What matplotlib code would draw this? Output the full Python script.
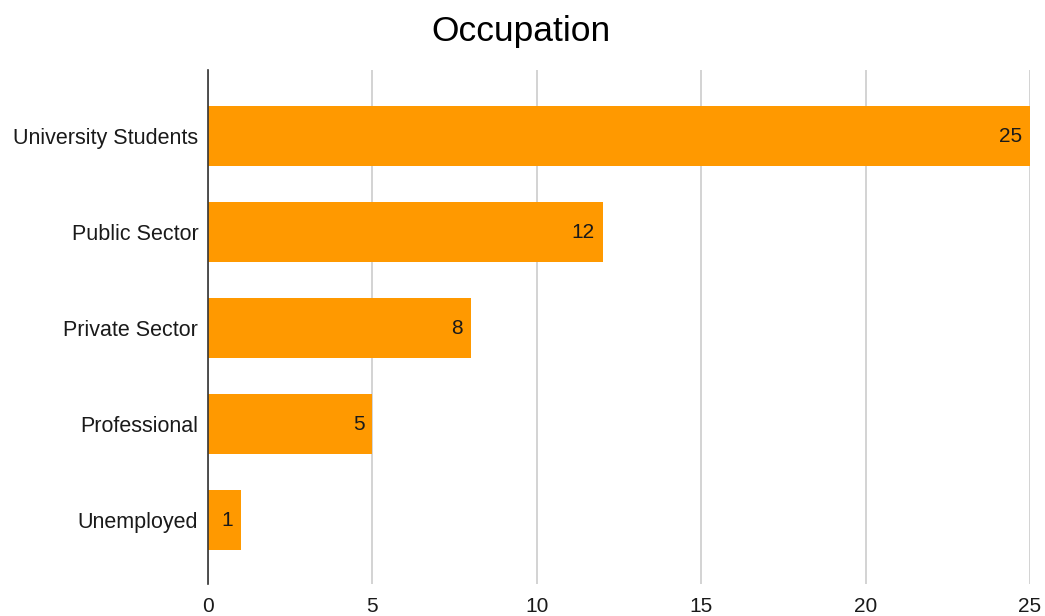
import matplotlib.pyplot as plt

# dados do gráfico
categories = ["University Students", "Public Sector", "Private Sector", "Professional", "Unemployed"]
counts = [25, 12, 8, 5, 1]
xticks = [0, 5, 10, 15, 20, 25]

plt.rcParams['font.family'] = ['Liberation Sans', 'DejaVu Sans']

fig = plt.figure(figsize=(10.45, 6.16), dpi=100)
ax = fig.add_axes([208 / 1045, 1 - 584 / 616, (1030 - 208) / 1045, (584 - 70) / 616])

ypos = list(range(len(categories)))
bars = ax.barh(ypos, counts, height=0.63, color='#ff9900', zorder=3)

# rótulos dentro das barras
for y, v in zip(ypos, counts):
    ax.text(v - 0.24, y, str(v), ha='right', va='center', fontsize=15, color='#1a1a1a', zorder=4)

ax.set_xlim(0, 25)
ax.set_ylim(4 + 64 / 96, -66 / 96)
ax.set_yticks(ypos)
ax.set_yticklabels(categories, fontsize=15.5, color='#1a1a1a')
ax.set_xticks(xticks)
ax.set_xticklabels([str(t) for t in xticks], fontsize=15, color='#1a1a1a')
ax.tick_params(axis='both', length=0)
ax.tick_params(axis='y', pad=7)
ax.tick_params(axis='x', pad=9)

ax.grid(axis='x', color='#cccccc', linewidth=1.2, zorder=0)
for s in ['top', 'right', 'bottom']:
    ax.spines[s].set_visible(False)
ax.spines['left'].set_color('#333333')
ax.spines['left'].set_linewidth(1.2)
ax.spines['left'].set_zorder(5)

fig.text(521 / 1045, 1 - 31 / 616, "Occupation", ha='center', va='center', fontsize=25.5, color='#000000')

fig.savefig("out.png", dpi=100)
